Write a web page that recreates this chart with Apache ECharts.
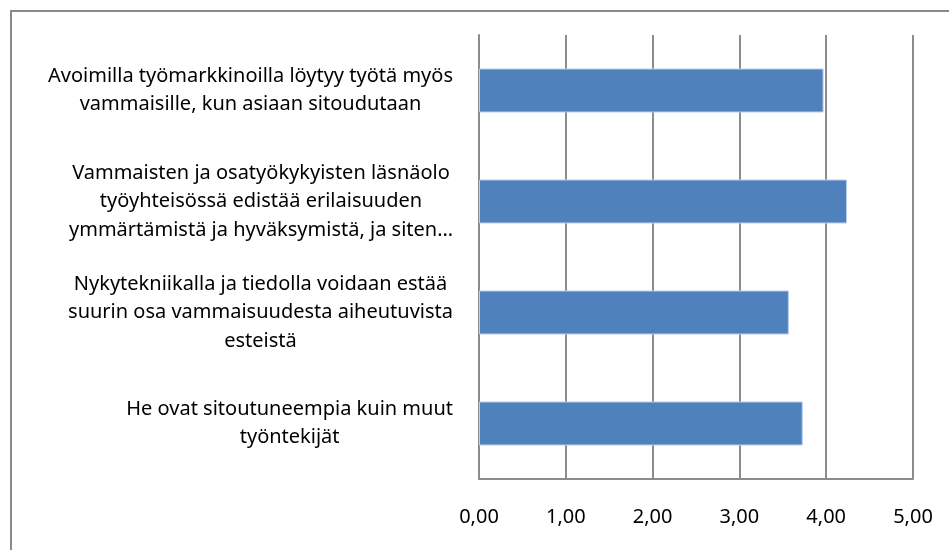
<!DOCTYPE html>
<html>
<head>
<meta charset="utf-8">
<script src="https://cdn.jsdelivr.net/npm/echarts@6/dist/echarts.min.js"></script>
<style>
  html, body { margin: 0; padding: 0; background: #fff; }
  #chart { width: 949px; height: 550px; }
</style>
</head>
<body>
<div id="chart"></div>
<script>
// väittämät ylhäältä alas
var categories = [
    'Avoimilla työmarkkinoilla löytyy työtä myös\nvammaisille, kun asiaan sitoudutaan',
    'Vammaisten ja osatyökykyisten läsnäolo\ntyöyhteisössä edistää erilaisuuden\nymmärtämistä ja hyväksymistä, ja siten…',
    'Nykytekniikalla ja tiedolla voidaan estää\nsuurin osa vammaisuudesta aiheutuvista\nesteistä',
    'He ovat sitoutuneempia kuin muut\ntyöntekijät'
];
var values = [3.97, 4.24, 3.57, 3.73];
var tickLabels = ['0,00', '1,00', '2,00', '3,00', '4,00', '5,00'];

var gridColor = '#8c8c8c';
var myChart = echarts.init(document.getElementById('chart'));
var option = {
    backgroundColor: '#fff',
    animation: false,
    textStyle: { fontFamily: 'Noto Sans' },
    graphic: [{
        type: 'rect',
        shape: { x: 11, y: 11, width: 960, height: 560 },
        style: { fill: 'none', stroke: '#8a8a8a', lineWidth: 2 },
        silent: true
    }],
    grid: { left: 479, right: 36, top: 35, bottom: 71 },
    xAxis: {
        type: 'value',
        min: 0,
        max: 5,
        interval: 1,
        axisLine: { show: true, lineStyle: { color: gridColor, width: 2 } },
        axisTick: { show: false },
        splitLine: { show: true, lineStyle: { color: gridColor, width: 2 } },
        axisLabel: {
            margin: 28,
            fontSize: 20,
            color: '#000',
            formatter: function (v) { return tickLabels[Math.round(v)]; }
        }
    },
    yAxis: {
        type: 'category',
        inverse: true,
        data: categories,
        axisLine: { show: true, lineStyle: { color: gridColor, width: 2 } },
        axisTick: { show: false },
        axisLabel: {
            margin: 26,
            align: 'right',
            formatter: function (v) { return '{c|' + v.split('\n').join('}\n{c|') + '}'; },
            rich: {
                c: { align: 'center', fontSize: 20, lineHeight: 28.5, color: '#000', fontFamily: 'Noto Sans' }
            }
        }
    },
    series: [{
        type: 'bar',
        data: values,
        barWidth: 44,
        itemStyle: { color: '#4f81bd', borderColor: '#bcd0e8', borderWidth: 1 }
    }]
};
myChart.setOption(option);
</script>
</body>
</html>
